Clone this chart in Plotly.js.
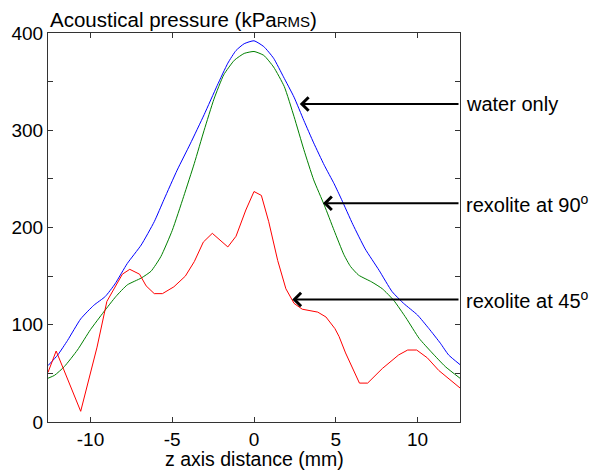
<!DOCTYPE html>
<html>
<head>
<meta charset="utf-8">
<script src="https://cdn.plot.ly/plotly-3.0.1.min.js"></script>
<style>html,body{margin:0;padding:0;background:#fff;}</style>
</head>
<body>
<div id="chart" style="width:589px;height:470px;"></div>
<script>
// water only (blue)
const waterX = [-12.6,-12.0,-11.4,-10.6,-9.8,-9.1,-8.5,-7.75,-6.9,-6.1,-5.5,-4.7,-3.9,-3.05,-2.25,-1.6,-1.1,-0.6,0,0.6,1.2,1.8,2.45,3.05,3.65,4.3,4.9,5.35,6.05,6.8,7.65,8.45,9.15,10.0,10.7,11.4,11.9,12.6];
const waterY = [58,69,84,106,120,129,142,163,182,206,229,259,286,316,346,369,382,389,392,386,374,355,334,310,287,264,245,229,203,178,156,134,122,110,96,81,69,59];
// rexolite at 90 deg (green)
const rex90X = [-12.6,-12.2,-11.6,-10.8,-10.0,-9.2,-8.45,-7.75,-6.9,-6.3,-5.7,-5.0,-4.3,-3.65,-3.05,-2.45,-1.85,-1.2,-0.6,0,0.6,1.2,1.85,2.45,3.05,3.65,4.3,4.9,5.5,5.9,6.4,7.2,7.85,8.55,9.3,10.1,10.9,11.7,12.6];
const rex90Y = [45,48,57,74,95,113,129,141,148,155,170,197,232,266,300,332,357,372,379,381,377,365,345,314,280,249,223,197,172,160,151,144,137,125,107,86,71,57,45];
// rexolite at 45 deg (red)
const rex45X = [-12.6,-12.1,-10.6,-9.6,-9.0,-8.05,-7.6,-7.0,-6.6,-6.1,-5.6,-4.9,-4.2,-3.65,-3.1,-2.55,-1.6,-1.1,-0.5,0.0,0.45,0.9,1.45,1.95,2.45,2.95,3.9,4.4,4.95,5.2,5.6,6.45,6.95,7.85,8.85,9.4,9.95,10.6,11.3,11.9,12.6];
const rex45Y = [51,73,11,77,124,152,157,152,140,132,132,139,150,165,185,194,180,191,218,237,233,206,166,137,122,116,113,108,96,88,71,40,40,55,69,74,74,66,53,45,35];

const xTicks = [-10,-5,0,5,10];
const yTicks = [0,50,100,150,200,250,300,350,400];
const yTickText = ['0','','100','','200','','300','','400'];

const labels = ['water only','rexolite at 90<sup>o</sup>','rexolite at 45<sup>o</sup>'];
const labelY = [327,225,126];
const arrowTipX = [2.8,4.22,2.34];

const FONT = 'Liberation Sans, Arial, sans-serif';

const traces = [
  {x: waterX, y: waterY, type:'scatter', mode:'lines', line:{color:'#0000ff', width:1, shape:'spline', smoothing:0.5}},
  {x: rex90X, y: rex90Y, type:'scatter', mode:'lines', line:{color:'#008000', width:1, shape:'spline', smoothing:0.5}},
  {x: rex45X, y: rex45Y, type:'scatter', mode:'lines', line:{color:'#ff0000', width:1}}
];

const annotations = [];
for (let i = 0; i < labels.length; i++) {
  annotations.push({
    xref:'x', yref:'y', x: arrowTipX[i], y: labelY[i],
    axref:'x', ayref:'y', ax: 12.6, ay: labelY[i],
    text:'', showarrow:true, arrowhead:4, arrowsize:1.3, arrowwidth:2, arrowcolor:'#000', standoff:0
  });
  annotations.push({
    xref:'paper', yref:'y', x:1, y: labelY[i], xanchor:'left', yanchor:'middle', xshift:4,
    text: labels[i], showarrow:false, font:{family:FONT, size:20, color:'#000'}
  });
}
annotations.push({
  xref:'paper', yref:'paper', x:0, y:1, xanchor:'left', yanchor:'bottom', yshift:0,
  text:'Acoustical pressure (kPa<span style="font-size:15px">RMS</span>)', showarrow:false,
  font:{family:FONT, size:20.5, color:'#000'}
});
// x axis title placed as annotation for exact vertical position
annotations.push({
  xref:'paper', yref:'paper', x:0.5, y:0, xanchor:'center', yanchor:'top', yshift:-24,
  text:'z axis distance (mm)', showarrow:false,
  font:{family:FONT, size:19.5, color:'#000'}
});

const axisCommon = {
  showline:true, mirror:'ticks', linecolor:'#333', linewidth:1,
  ticks:'inside', ticklen:5, tickcolor:'#333', tickwidth:1,
  showgrid:false, zeroline:false,
  tickfont:{family:FONT, size:19, color:'#000'}
};

const layout = {
  width:589, height:470,
  margin:{l:48, r:129, t:33, b:48},
  paper_bgcolor:'#fff', plot_bgcolor:'#fff',
  showlegend:false,
  font:{family:FONT, color:'#000'},
  xaxis: Object.assign({}, axisCommon, {
    range:[-12.6,12.6], tickvals:xTicks, ticktext:xTicks.map(String)
  }),
  yaxis: Object.assign({}, axisCommon, {
    range:[0,400], tickvals:yTicks, ticktext:yTickText
  }),
  annotations: annotations
};

Plotly.newPlot('chart', traces, layout, {displayModeBar:false, staticPlot:true});
</script>
</body>
</html>
